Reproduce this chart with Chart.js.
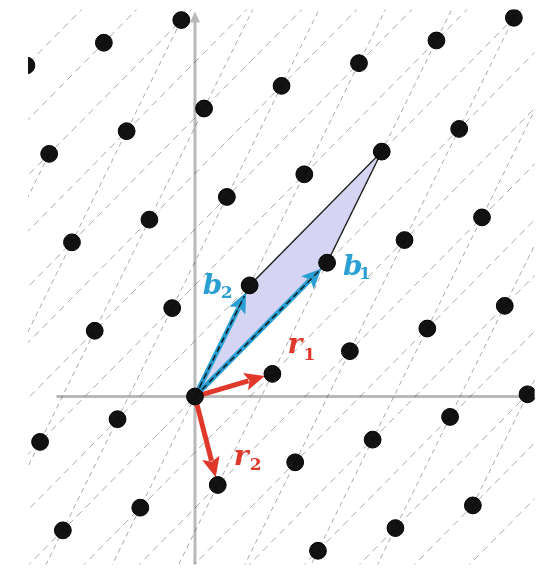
<!DOCTYPE html>
<html><head><meta charset="utf-8">
<script src="https://cdn.jsdelivr.net/npm/chart.js@4/dist/chart.umd.min.js"></script>
<style>html,body{margin:0;padding:0;background:#fff;overflow:hidden}canvas{display:block}</style>
</head><body>
<canvas id="c" width="544" height="574"></canvas>
<script>
// ---- data ----
const vecR1 = [3.4, 1.0];
const vecR2 = [1.0, -3.9];
const vecB1 = [5.8, 5.9];   // 2 r1 - r2
const vecB2 = [2.4, 4.9];   // r1 - r2
const vecB1B2 = [8.2, 10.8];
const origin = [0, 0];
const latticeX = [-7.4,-4,-0.6, -6.4,-3,0.4,3.8,7.2,10.6,14, -5.4,-2,1.4,4.8,8.2,11.6,
  -4.4,-1,2.4,5.8,9.2,12.6, -6.8,-3.4,0,3.4,6.8,10.2,13.6, -5.8,-2.4,1,4.4,7.8,11.2,14.6, 5.4,8.8,12.2];
const latticeY = [14.6,15.6,16.6, 10.7,11.7,12.7,13.7,14.7,15.7,16.7, 6.8,7.8,8.8,9.8,10.8,11.8,
  2.9,3.9,4.9,5.9,6.9,7.9, -2,-1,0,1,2,3,4, -5.9,-4.9,-3.9,-2.9,-1.9,-0.9,0.1, -6.8,-5.8,-4.8];
const b1LineIndex = [-9,-8,-7,-6,-5,-4,-3,-2,-1,0,1,2,3,4,5,6,7,8,9,10];
const b2LineIndex = [-7,-6,-5,-4,-3,-2,-1,0,1,2,3,4,5,6,7];
const xAxisRange = [-6.08, 14.95];
const yAxisRange = [-7.41, 16.6];
const yAxisTip = 16.98;
const vectorNames = ['b','b','r','r'];
const vectorSubs = ['1','2','1','2'];

// ---- build datasets ----
const datasets = [];
datasets.push({
  type: 'scatter', order: 2,
  data: latticeX.map((x,i)=>({x, y: latticeY[i]})),
  pointRadius: 8.4, pointBackgroundColor: '#121212', pointBorderColor: '#000', pointBorderWidth: 1,
  showLine: false
});
function lineDs(base, dir, t, dash){
  return {type:'scatter', order:1, showLine:true, pointRadius:0, borderWidth:1,
    borderColor:'rgba(0,0,0,0.34)', borderDash: dash, fill:false,
    data:[{x: base[0]-t*dir[0], y: base[1]-t*dir[1]}, {x: base[0]+t*dir[0], y: base[1]+t*dir[1]}]};
}
b1LineIndex.forEach(n => datasets.push(lineDs([n*vecB2[0], n*vecB2[1]], vecB1, 6, [7,5])));
b2LineIndex.forEach(m => datasets.push(lineDs([m*vecB1[0], m*vecB1[1]], vecB2, 7, [5,4])));

const BLUE = '#2a9fd3', RED = '#e0392c';

const drawPlugin = {
  id: 'lattice',
  beforeDatasetsDraw(chart){
    const ctx = chart.ctx, xs = chart.scales.x, ys = chart.scales.y;
    const P = v => [xs.getPixelForValue(v[0]), ys.getPixelForValue(v[1])];
    const ca = chart.chartArea;
    ctx.save();
    ctx.beginPath(); ctx.rect(ca.left, ca.top, ca.right-ca.left, ca.bottom-ca.top); ctx.clip();
    // fundamental parallelogram
    const o = P(origin), b1 = P(vecB1), b2 = P(vecB2), s = P(vecB1B2);
    ctx.beginPath(); ctx.moveTo(o[0],o[1]); ctx.lineTo(b2[0],b2[1]); ctx.lineTo(s[0],s[1]); ctx.lineTo(b1[0],b1[1]); ctx.closePath();
    ctx.fillStyle = '#d5d5f3'; ctx.fill();
    ctx.strokeStyle = '#2a2a2a'; ctx.lineWidth = 1.4; ctx.stroke();
    // axes
    ctx.strokeStyle = '#b9b9b9'; ctx.lineWidth = 3;
    const xa0 = P([xAxisRange[0],0]), xa1 = P([xAxisRange[1],0]);
    ctx.beginPath(); ctx.moveTo(xa0[0],xa0[1]); ctx.lineTo(xa1[0],xa1[1]); ctx.stroke();
    const ya0 = P([0,yAxisRange[0]]), ya1 = P([0,yAxisRange[1]]), yt = P([0,yAxisTip]);
    ctx.beginPath(); ctx.moveTo(ya0[0],ya0[1]); ctx.lineTo(ya1[0],ya1[1]); ctx.stroke();
    ctx.fillStyle = '#b9b9b9';
    ctx.beginPath(); ctx.moveTo(yt[0], yt[1]); ctx.lineTo(yt[0]-5, yt[1]+11); ctx.lineTo(yt[0]+5, yt[1]+11); ctx.closePath(); ctx.fill();
    // arrows
    function arrow(v, color, dashed){
      const e = P(v);
      const dx = e[0]-o[0], dy = e[1]-o[1], L = Math.hypot(dx,dy);
      const ux = dx/L, uy = dy/L;
      const tip = [e[0]-ux*8, e[1]-uy*8];
      const hl = 20, hw = 9;
      const base = [tip[0]-ux*hl, tip[1]-uy*hl];
      ctx.strokeStyle = color; ctx.lineWidth = 5; ctx.lineCap = 'butt'; ctx.setLineDash([]);
      ctx.beginPath(); ctx.moveTo(o[0],o[1]); ctx.lineTo(base[0]+ux*3, base[1]+uy*3); ctx.stroke();
      ctx.fillStyle = color;
      ctx.beginPath(); ctx.moveTo(tip[0],tip[1]);
      ctx.lineTo(base[0]-uy*hw, base[1]+ux*hw); ctx.lineTo(base[0]+ux*4, base[1]+uy*4);
      ctx.lineTo(base[0]+uy*hw, base[1]-ux*hw); ctx.closePath(); ctx.fill();
      if (dashed){
        ctx.strokeStyle = 'rgba(15,15,15,0.9)'; ctx.lineWidth = 1.5; ctx.setLineDash([6,4]);
        ctx.beginPath(); ctx.moveTo(o[0],o[1]); ctx.lineTo(tip[0]-ux*4,tip[1]-uy*4); ctx.stroke();
        ctx.setLineDash([]);
      }
    }
    arrow(vecR1, RED, false);
    arrow(vecR2, RED, false);
    arrow(vecB1, BLUE, true);
    arrow(vecB2, BLUE, true);
    ctx.restore();
  },
  afterDatasetsDraw(chart){
    const ctx = chart.ctx, xs = chart.scales.x, ys = chart.scales.y;
    const P = v => [xs.getPixelForValue(v[0]), ys.getPixelForValue(v[1])];
    const ends = [vecB1, vecB2, vecR1, vecR2];
    const offs = [[16,12,32,16],[-47,9,-29,13],[15,-21,31,-14],[16,-20,32,-15]];
    const cols = [BLUE, BLUE, RED, RED];
    ctx.save();
    ends.forEach((v,i)=>{
      const e = P(v), o = offs[i];
      ctx.fillStyle = cols[i];
      ctx.font = 'italic bold 28px "DejaVu Serif", serif';
      ctx.textBaseline = 'alphabetic'; ctx.textAlign = 'left';
      ctx.fillText(vectorNames[i], e[0]+o[0], e[1]+o[1]);
      ctx.font = 'bold 17px "DejaVu Serif", serif';
      ctx.fillText(vectorSubs[i], e[0]+o[2], e[1]+o[3]);
    });
    ctx.restore();
  }
};

new Chart(document.getElementById('c'), {
  type: 'scatter',
  data: { datasets },
  options: {
    responsive: false, animation: false, devicePixelRatio: 1, events: [],
    layout: { padding: { left: 28, top: 6, right: 0, bottom: 0 } },
    plugins: { legend: { display: false }, tooltip: { enabled: false } },
    scales: {
      x: { type: 'linear', min: -7.33, max: 14.91, display: false },
      y: { type: 'linear', min: -7.41, max: 17.07, display: false }
    }
  },
  plugins: [drawPlugin]
});
</script>
</body></html>
